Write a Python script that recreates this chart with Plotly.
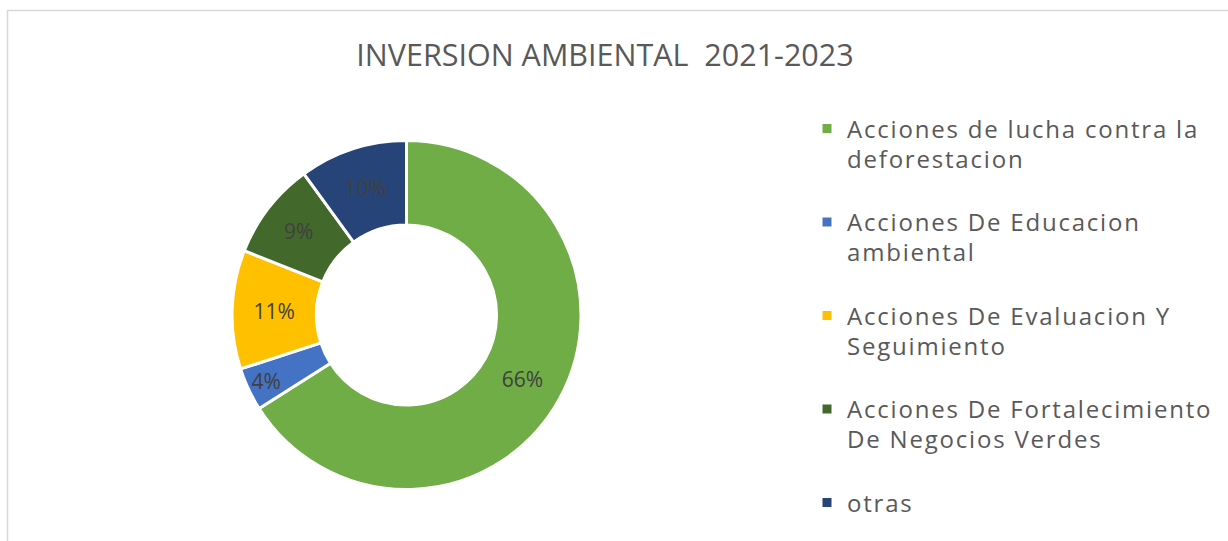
import plotly.graph_objects as go

label_lines = [
    ["Acciones de lucha contra la", "deforestacion"],
    ["Acciones De Educacion", "ambiental"],
    ["Acciones De Evaluacion Y", "Seguimiento"],
    ["Acciones De Fortalecimiento", "De Negocios Verdes"],
    ["otras"],
]
values = [66, 4, 11, 9, 10]
colors = ["#70AD47", "#4472C4", "#FFC000", "#43682B", "#264478"]
title_text = "INVERSION AMBIENTAL\u00a0 2021-2023"

W, H = 1228, 541
FONT = "Open Sans"

cx, cy, r = 406.5, 315.0, 174.5


def legend_name(lines, last):
    parts = ["<span style='font-size:24px;letter-spacing:1.8px'>%s</span>" % ln for ln in lines]
    if not last:
        parts.append(" ")
    return "<br>".join(parts)


names = [legend_name(ls, i == len(label_lines) - 1) for i, ls in enumerate(label_lines)]

fig = go.Figure(go.Pie(
    labels=names,
    values=values,
    sort=False,
    direction="clockwise",
    rotation=0,
    hole=0.516,
    marker=dict(colors=colors, line=dict(color="white", width=3)),
    textinfo="percent",
    texttemplate="%{percent:.0%}",
    textposition="inside",
    insidetextorientation="horizontal",
    textfont=dict(family=FONT, size=21, color="#404040"),
    hoverinfo="label+percent",
    domain=dict(x=[(cx - r) / W, (cx + r) / W], y=[(H - cy - r) / H, (H - cy + r) / H]),
))

fig.update_layout(
    width=W, height=H,
    margin=dict(l=0, r=0, t=0, b=0),
    paper_bgcolor="white",
    plot_bgcolor="white",
    title=dict(text=title_text, x=605 / W, xanchor="center", y=1 - 55 / H, yanchor="middle",
               font=dict(family=FONT, size=30.5, color="#595959")),
    uniformtext=dict(minsize=21, mode="show"),
    legend=dict(x=807 / W, xanchor="left", y=1 - 107 / H, yanchor="top",
                font=dict(family=FONT, size=23.2, color="#595959"),
                valign="top", bgcolor="rgba(0,0,0,0)"),
    shapes=[dict(type="rect", xref="paper", yref="paper",
                 x0=7.5 / W, x1=1.05, y0=-0.05, y1=1 - 10.5 / H,
                 line=dict(color="#D9D9D9", width=1.5), fillcolor="rgba(0,0,0,0)", layer="below")],
)

fig.write_html("out.html", config={"displayModeBar": False},
               post_script="document.body.style.margin='0';")
